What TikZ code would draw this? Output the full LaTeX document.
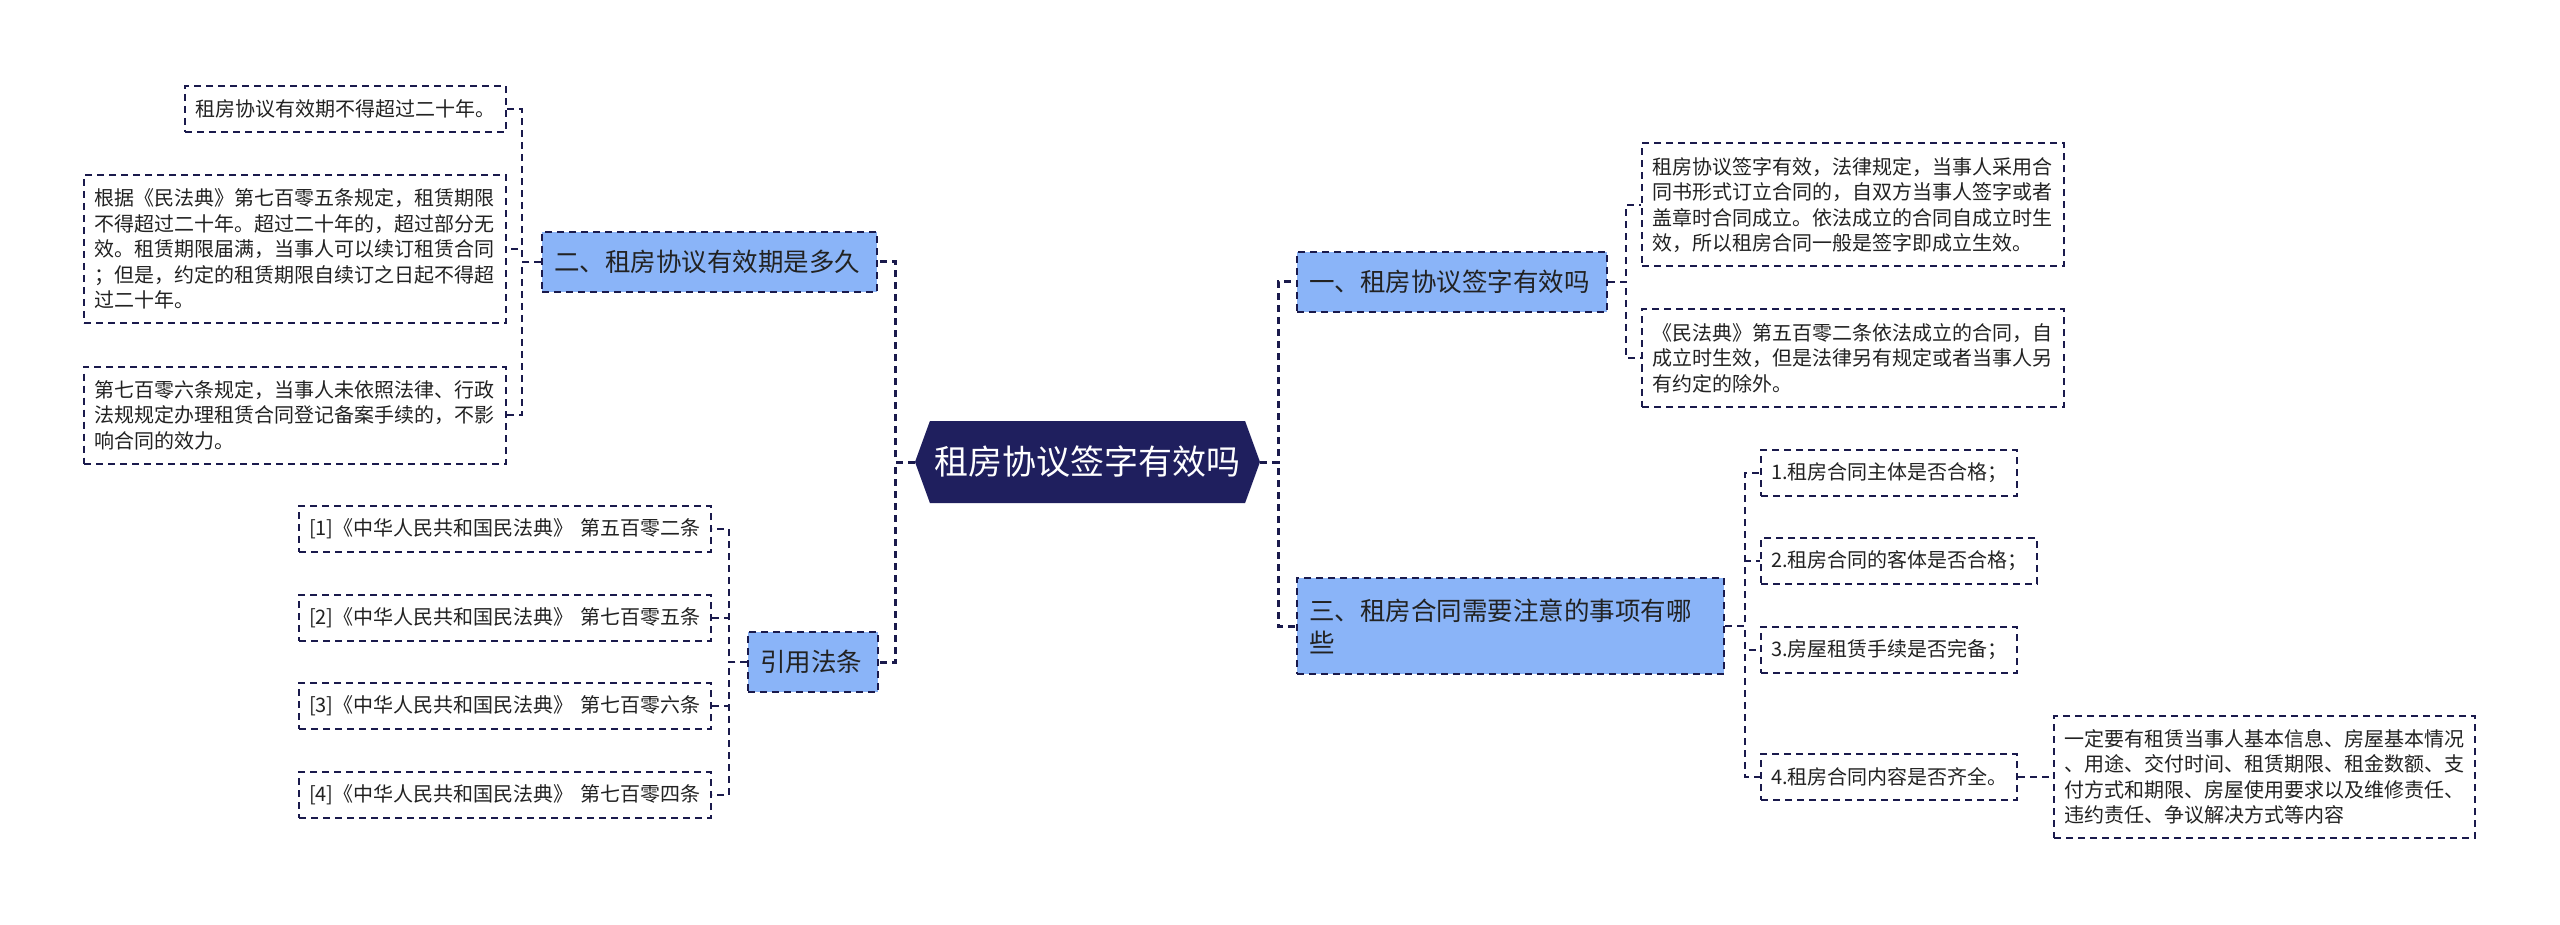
\documentclass[tikz,border=0pt]{standalone}
\usepackage{fontspec}
\setmainfont{Noto Sans CJK SC}
\usetikzlibrary{shapes.symbols}
\definecolor{navy}{HTML}{1A1A4C}
\definecolor{hexfill}{HTML}{1F1F5E}
\definecolor{bluefill}{HTML}{8AB4F8}
\definecolor{txt}{HTML}{222222}
\tikzset{
 dsh/.style={dash pattern=on 7pt off 5pt},
 leafbox/.style={draw=navy, dsh, line width=2pt, inner xsep=10pt, inner ysep=0pt, align=left, text=txt, font=\fontsize{20}{25.5}\selectfont},
 midbox/.style={draw=navy, dsh, line width=2pt, fill=bluefill, inner xsep=12pt, inner ysep=0pt, align=left, text=txt, font=\fontsize{25.5}{32}\selectfont},
 trunk/.style={draw=navy, dsh, line width=3pt},
 twig/.style={draw=navy, dsh, line width=2.2pt},
 rootnode/.style={signal, signal to=west and east, signal pointer angle=140, fill=hexfill, draw=none, text=white, font=\fontsize{34}{40}\selectfont, minimum width=345pt, minimum height=82pt, inner sep=0pt}
}
\begin{document}
\begin{tikzpicture}[x=1pt,y=-1pt]
\fill[white] (0,0) rectangle (2560,925);
\useasboundingbox (0,0) rectangle (2560,925);

% root
\node[rootnode] (root) at (1087.5,462) {租房协议签字有效吗};

% left branch 二
\node[midbox, anchor=east, text width=311pt, minimum height=60pt] (two) at (878,262) {二、租房协议有效期是多久};
\node[leafbox, anchor=east, text width=301pt, minimum height=46pt] (l1) at (507,109) {租房协议有效期不得超过二十年。};
\node[leafbox, anchor=east, text width=402pt, minimum height=148pt] (l2) at (507,249) {根据《民法典》第七百零五条规定，租赁期限\\不得超过二十年。超过二十年的，超过部分无\\效。租赁期限届满，当事人可以续订租赁合同\\；但是，约定的租赁期限自续订之日起不得超\\过二十年。};
\node[leafbox, anchor=east, text width=402pt, minimum height=97pt] (l3) at (507,415) {第七百零六条规定，当事人未依照法律、行政\\法规规定办理租赁合同登记备案手续的，不影\\响合同的效力。};

% left branch 引用法条
\node[midbox, anchor=east, text width=106pt, minimum height=60pt] (law) at (879,662) {引用法条};
\node[leafbox, anchor=east, text width=392pt, minimum height=46pt] (r1) at (712,529) {[1]《中华人民共和国民法典》 第五百零二条};
\node[leafbox, anchor=east, text width=392pt, minimum height=46pt] (r2) at (712,618) {[2]《中华人民共和国民法典》 第七百零五条};
\node[leafbox, anchor=east, text width=392pt, minimum height=46pt] (r3) at (712,706) {[3]《中华人民共和国民法典》 第七百零六条};
\node[leafbox, anchor=east, text width=392pt, minimum height=46pt] (r4) at (712,795) {[4]《中华人民共和国民法典》 第七百零四条};

% right branch 一
\node[midbox, anchor=west, text width=286pt, minimum height=60pt] (one) at (1296,282) {一、租房协议签字有效吗};
\node[leafbox, anchor=west, text width=402pt, minimum height=123pt] (a1) at (1641,205) {租房协议签字有效，法律规定，当事人采用合\\同书形式订立合同的，自双方当事人签字或者\\盖章时合同成立。依法成立的合同自成立时生\\效，所以租房合同一般是签字即成立生效。};
\node[leafbox, anchor=west, text width=402pt, minimum height=97pt] (a2) at (1641,358) {《民法典》第五百零二条依法成立的合同，自\\成立时生效，但是法律另有规定或者当事人另\\有约定的除外。};

% right branch 三
\node[midbox, anchor=west, text width=403pt, minimum height=96pt] (three) at (1296,626) {三、租房合同需要注意的事项有哪\\些};
\node[leafbox, anchor=west, text width=236pt, minimum height=46pt] (i1) at (1760,473) {1.租房合同主体是否合格；};
\node[leafbox, anchor=west, text width=256pt, minimum height=46pt] (i2) at (1760,561) {2.租房合同的客体是否合格；};
\node[leafbox, anchor=west, text width=236pt, minimum height=46pt] (i3) at (1760,650) {3.房屋租赁手续是否完备；};
\node[leafbox, anchor=west, text width=236pt, minimum height=46pt] (i4) at (1760,777) {4.租房合同内容是否齐全。};
\node[leafbox, anchor=west, text width=401pt, minimum height=122pt] (d1) at (2053,777) {一定要有租赁当事人基本信息、房屋基本情况\\、用途、交付时间、租赁期限、租金数额、支\\付方式和期限、房屋使用要求以及维修责任、\\违约责任、争议解决方式等内容};

% trunk connectors
\draw[trunk] (root.west) -- ++(-19,0) |- (two.east);
\draw[trunk] (root.west) -- ++(-19,0) |- (law.east);
\draw[trunk] (root.east) -- ++(18,0) |- (one.west);
\draw[trunk] (root.east) -- ++(18,0) |- (three.west);

% twigs
\foreach \t in {l1,l2,l3} \draw[twig] (two.west) -- ++(-19,0) |- (\t.east);
\foreach \t in {r1,r2,r3,r4} \draw[twig] (law.west) -- ++(-18,0) |- (\t.east);
\foreach \t in {a1,a2} \draw[twig] (one.east) -- ++(18,0) |- (\t.west);
\foreach \t in {i1,i2,i3,i4} \draw[twig] (three.east) -- ++(20,0) |- (\t.west);
\draw[twig] (i4.east) -- (d1.west);
\end{tikzpicture}
\end{document}
